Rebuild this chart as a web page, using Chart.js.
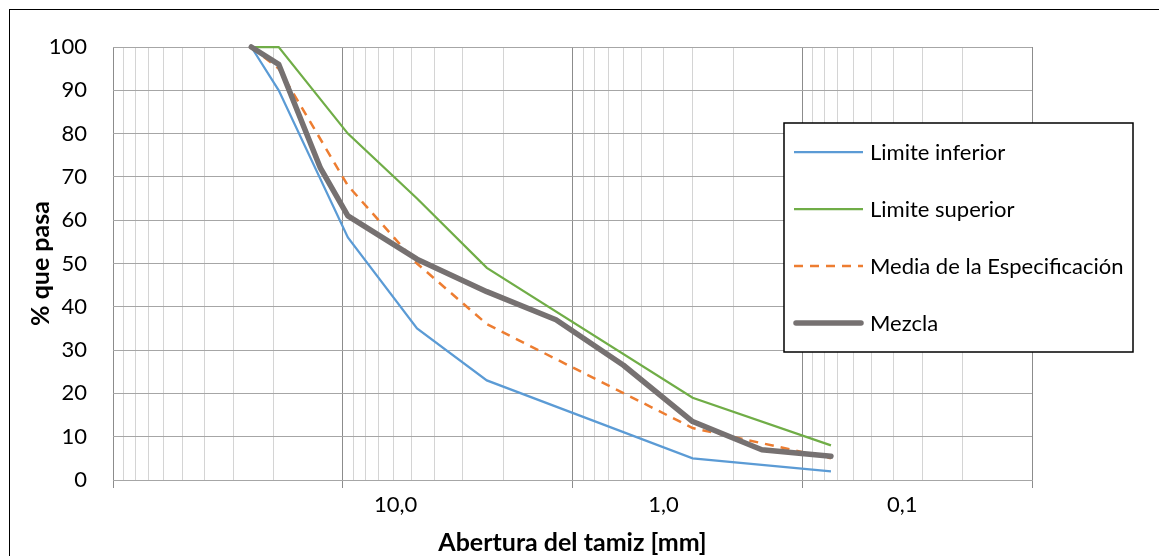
<!DOCTYPE html>
<html>
<head>
<meta charset="utf-8">
<script src="https://cdn.jsdelivr.net/npm/chart.js@4.4.0/dist/chart.umd.min.js"></script>
<style>
  html, body { margin: 0; padding: 0; background: #fff; overflow: hidden; }
  #frame { position: absolute; left: 9px; top: 9px; width: 1300px; height: 700px; border-left: 1px solid #000; border-top: 1px solid #000; }
  #mainchart { position: absolute; left: 0; top: 0; }
</style>
</head>
<body>
<div id="frame"></div>
<canvas id="mainchart" width="1159" height="556"></canvas>
<script>
// sieve openings [mm] and % passing
const sieveLimits = [25, 19, 9.5, 4.75, 2.36, 0.3, 0.075];
const limiteInferior = [100, 90, 56, 35, 23, 5, 2];
const limiteSuperior = [100, 100, 80, 65, 49, 19, 8];
const mediaEspecificacion = [100, 95, 68, 50, 36, 12, 5];

const sieveMezcla = [25, 19, 12.5, 9.5, 4.75, 2.36, 1.18, 0.6, 0.3, 0.15, 0.075];
const mezcla = [100, 96, 72, 61, 51, 43.5, 37, 26.5, 13.5, 7, 5.5];

const decades = [100, 10, 1, 0.1, 0.01];
// where the axis labels sit (they are not centred on the decade lines)
const labelPositions = [5.88, 0.402, 0.0367];
const labelTexts = ["10,0", "1,0", "0,1"];

const FONT = "Lato, 'Open Sans', sans-serif";

const toPoints = (xs, ys) => xs.map((x, i) => ({ x: x, y: ys[i] }));

// log grid: every decade plus 2..9 inside it, then the label-only ticks
const gridTicks = [];
decades.forEach((d) => {
  gridTicks.push({ value: d, kind: "decade" });
  if (d > 0.01) {
    for (let m = 2; m <= 9; m++) gridTicks.push({ value: (m * d) / 10, kind: "minor" });
  }
});
labelPositions.forEach((v, i) => gridTicks.push({ value: v, kind: "label", text: labelTexts[i] }));
gridTicks.sort((a, b) => b.value - a.value);

const boxLegend = {
  id: "boxLegend",
  afterDraw(chart) {
    const ctx = chart.ctx;
    ctx.save();
    ctx.fillStyle = "#fff";
    ctx.fillRect(784, 123, 349, 229);
    ctx.strokeStyle = "#000";
    ctx.lineWidth = 1.5;
    ctx.strokeRect(784, 123, 349, 229);
    ctx.font = "22px " + FONT;
    ctx.textBaseline = "middle";
    chart.data.datasets.forEach((ds, i) => {
      const y = 152 + i * 57;
      ctx.beginPath();
      ctx.setLineDash(ds.borderDash || []);
      ctx.lineWidth = ds.borderWidth;
      ctx.strokeStyle = ds.borderColor;
      ctx.lineCap = ds.borderCapStyle || "butt";
      const x0 = ds.borderCapStyle === "round" ? 796 : 794;
      const x1 = ds.borderCapStyle === "round" ? 861 : 863;
      ctx.moveTo(x0, y);
      ctx.lineTo(x1, y);
      ctx.stroke();
      ctx.setLineDash([]);
      ctx.fillStyle = "#000";
      ctx.fillText(ds.label, 870, y + 1);
    });
    ctx.restore();
  },
};

const ctx = document.getElementById("mainchart").getContext("2d");
const mainchart = new Chart(ctx, {
  type: "line",
  data: {
    datasets: [
      {
        label: "Limite inferior",
        data: toPoints(sieveLimits, limiteInferior),
        borderColor: "#5b9bd5",
        borderWidth: 2.25,
        order: 4,
      },
      {
        label: "Limite superior",
        data: toPoints(sieveLimits, limiteSuperior),
        borderColor: "#70ad47",
        borderWidth: 2.25,
        order: 3,
      },
      {
        label: "Media de la Especificación",
        data: toPoints(sieveLimits, mediaEspecificacion),
        borderColor: "#ed7d31",
        borderWidth: 2.5,
        borderDash: [9, 7],
        order: 2,
      },
      {
        label: "Mezcla",
        data: toPoints(sieveMezcla, mezcla),
        borderColor: "#767171",
        borderWidth: 5.5,
        borderCapStyle: "round",
        borderJoinStyle: "round",
        order: 1,
      },
    ],
  },
  options: {
    responsive: false,
    animation: false,
    devicePixelRatio: 1,
    layout: { padding: { left: 0, top: 47, right: 127, bottom: 0 } },
    elements: {
      point: { radius: 0, hoverRadius: 0 },
      line: { tension: 0, fill: false },
    },
    datasets: { line: { clip: false } },
    plugins: {
      legend: { display: false },
      tooltip: { enabled: false },
    },
    scales: {
      x: {
        type: "logarithmic",
        reverse: true,
        min: 0.01,
        max: 100,
        afterBuildTicks: (scale) => {
          scale.ticks = gridTicks.map((t) => ({ ...t }));
        },
        afterFit: (scale) => {
          scale.height = 76;
        },
        grid: {
          color: (c) => {
            if (!c.tick) return "#d4d4d4";
            if (c.tick.kind === "decade") return "#8c8c8c";
            if (c.tick.kind === "label") return "rgba(0,0,0,0)";
            return "#d4d4d4";
          },
          tickColor: (c) => (c.tick && c.tick.kind === "decade" ? "#8c8c8c" : "rgba(0,0,0,0)"),
          tickLength: 8,
          lineWidth: 1,
        },
        border: { color: "#a6a6a6", width: 1 },
        ticks: {
          autoSkip: false,
          maxRotation: 0,
          minRotation: 0,
          padding: 4,
          color: "#000",
          font: { family: FONT, size: 22 },
          callback: (value, index, ticks) => (ticks[index].kind === "label" ? ticks[index].text : ""),
        },
        title: {
          display: true,
          text: "Abertura del tamiz [mm]",
          color: "#000",
          font: { family: FONT, size: 25, weight: "bold" },
          padding: { top: 0, bottom: -2 },
        },
      },
      y: {
        min: 0,
        max: 100,
        afterFit: (scale) => {
          scale.width = 113;
        },
        grid: { color: "#a6a6a6", lineWidth: 1, drawTicks: false },
        border: { display: false },
        ticks: {
          stepSize: 10,
          padding: 26,
          color: "#000",
          font: { family: FONT, size: 22 },
        },
        title: {
          display: true,
          text: "% que pasa",
          color: "#000",
          font: { family: FONT, size: 25, weight: "bold" },
          padding: { top: 26, bottom: 0 },
        },
      },
    },
  },
  plugins: [boxLegend],
});
</script>
</body>
</html>
